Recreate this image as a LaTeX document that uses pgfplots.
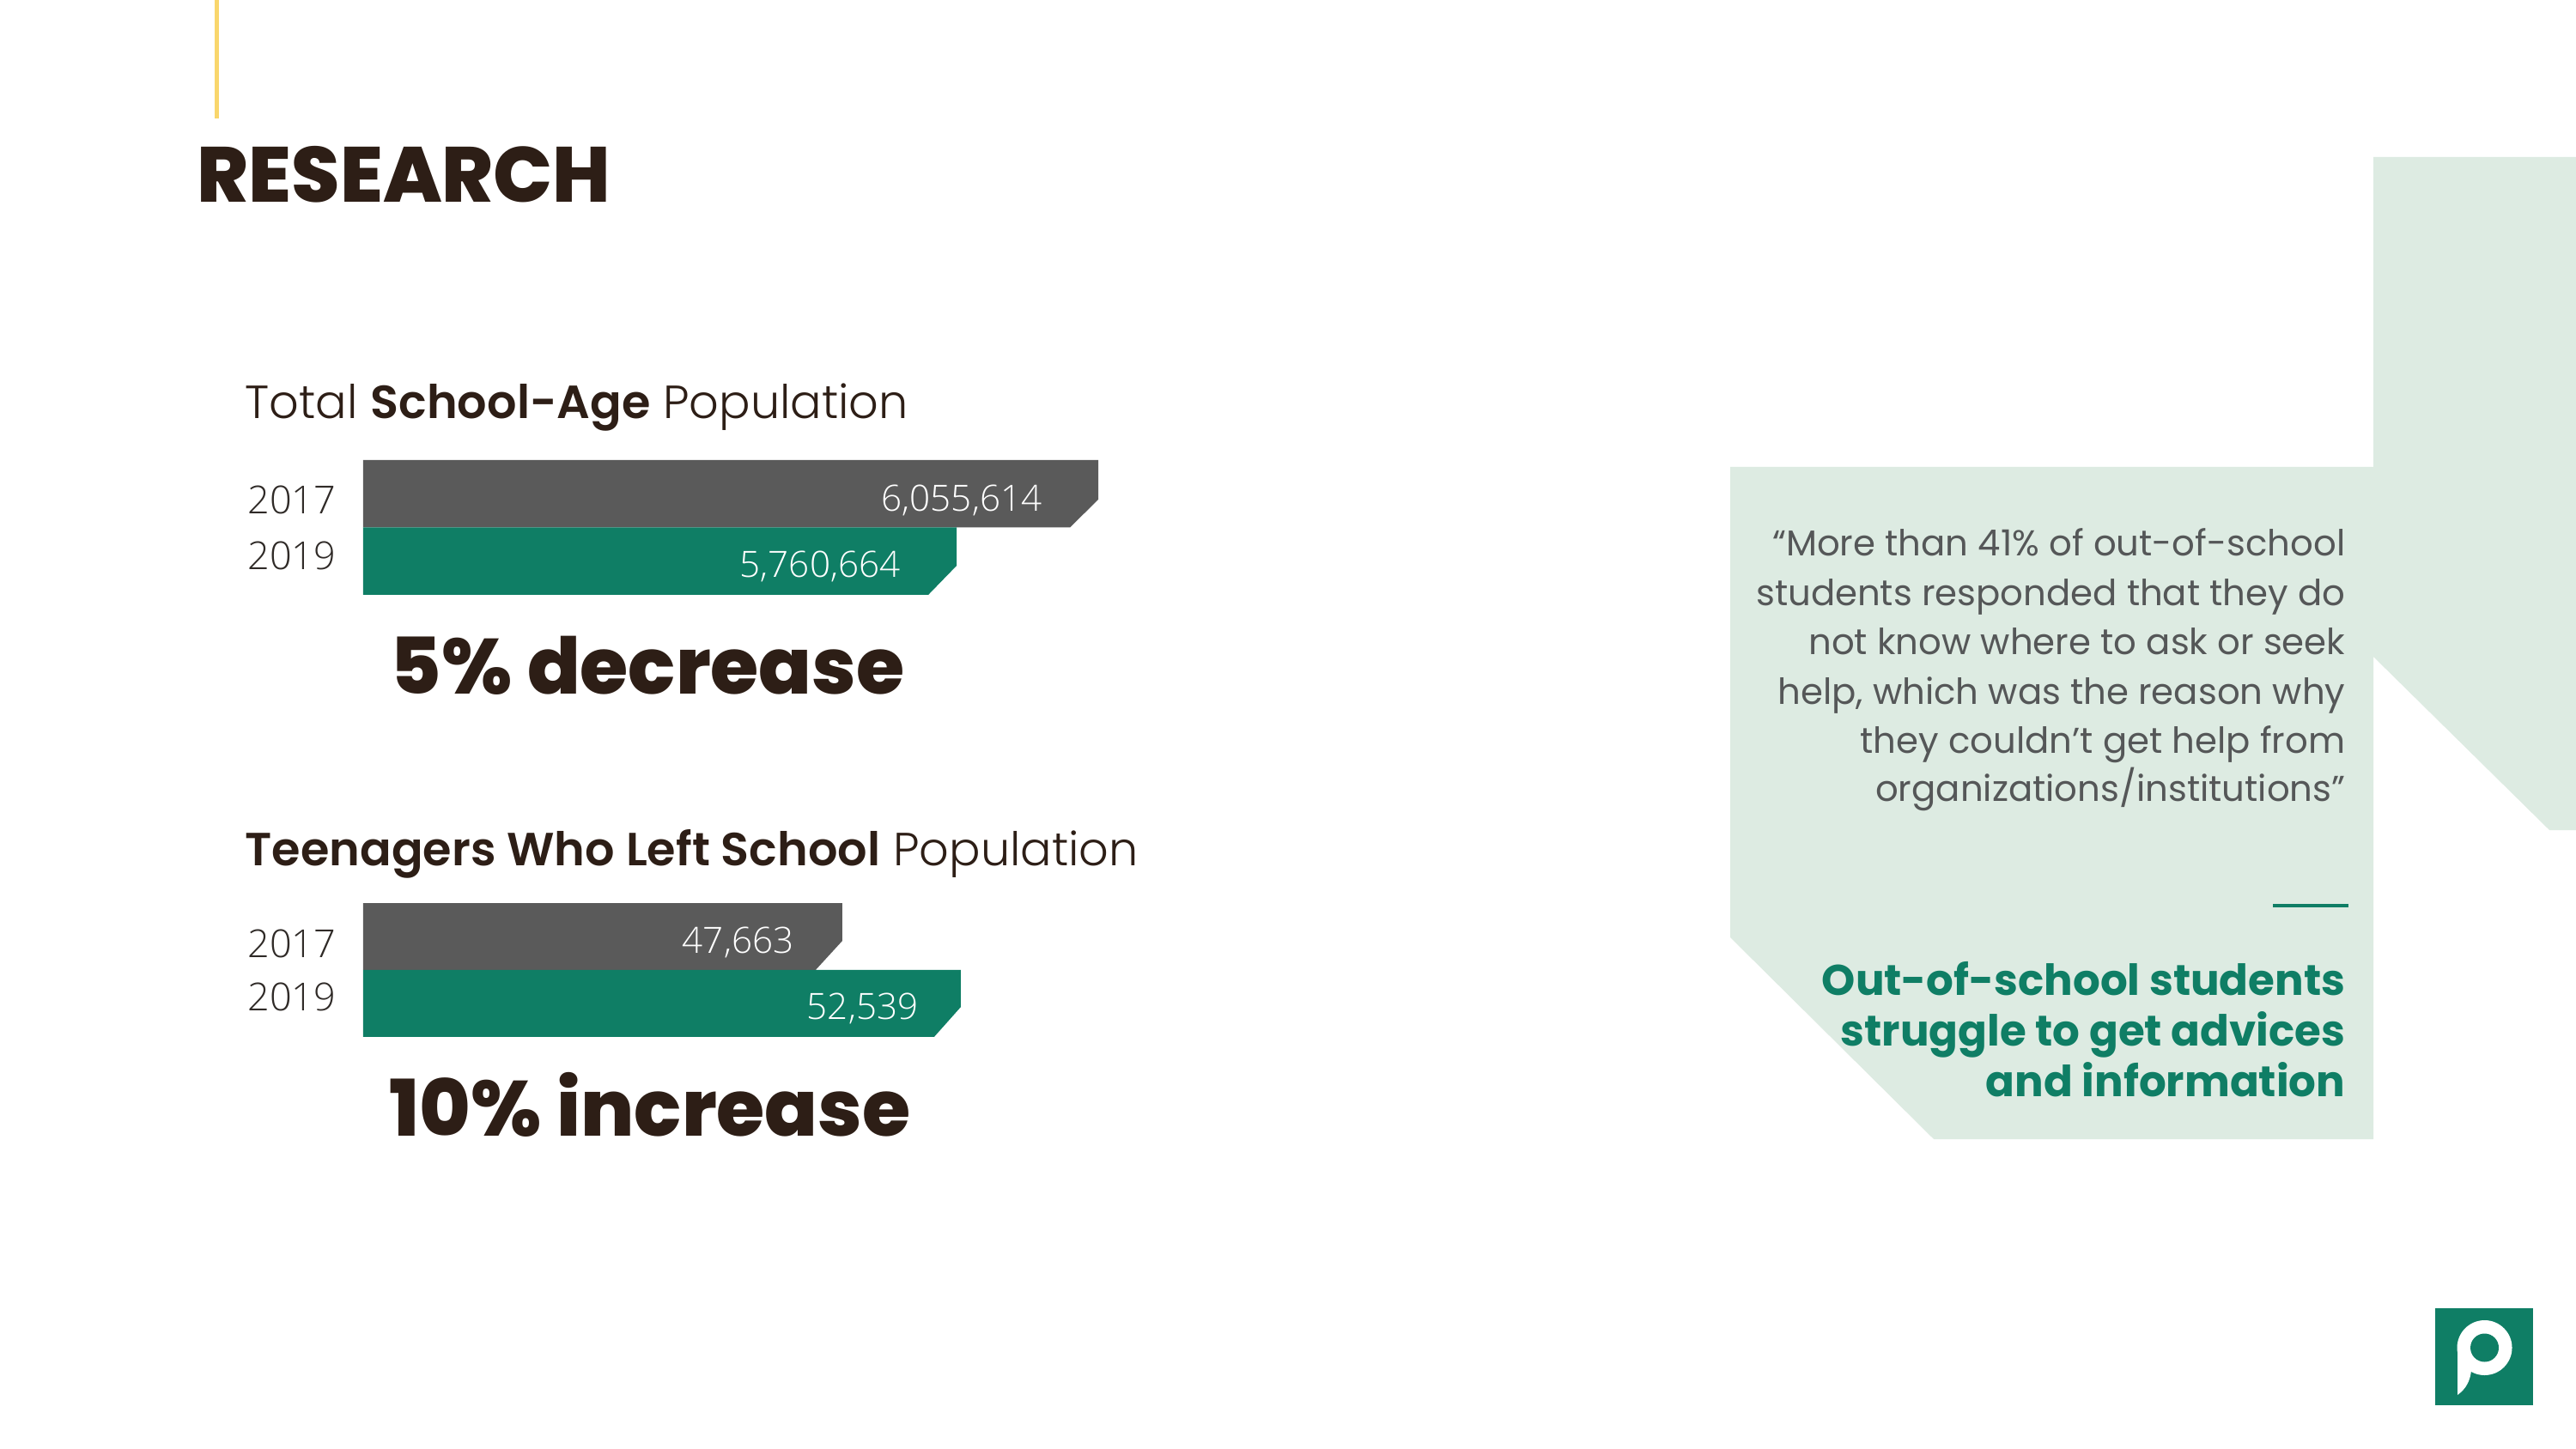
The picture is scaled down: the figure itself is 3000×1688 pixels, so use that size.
\documentclass[border=0pt]{standalone}
\usepackage{pgfplots}
\pgfplotsset{compat=1.18}
\usepackage{fontspec}
\setmainfont{Poppins}
\IfFontExistsTF{Poppins ExtraBold}{\newfontfamily\xbold{Poppins ExtraBold}}{\newcommand\xbold{\bfseries}}
\IfFontExistsTF{Poppins SemiBold}{\newfontfamily\sbold{Poppins SemiBold}}{\newcommand\sbold{\bfseries}}
\IfFontExistsTF{Poppins Light}{\newfontfamily\plight{Poppins Light}}{\newcommand\plight{\mdseries}}
\IfFontExistsTF{Open Sans Light}{\newfontfamily\numfont{Open Sans Light}}{\newfontfamily\numfont{Open Sans}}
\definecolor{dark}{HTML}{2D1E16}
\definecolor{graybar}{HTML}{5A5A5A}
\definecolor{greenbar}{HTML}{0F7E65}
\definecolor{mint}{HTML}{DDEBE2}
\definecolor{yellowbar}{HTML}{F9D66C}
\definecolor{quotegray}{HTML}{555758}
\definecolor{yearcol}{HTML}{2F2A27}
\begin{document}
\begin{tikzpicture}
\begin{scope}[x=0.1mm,y=-0.1mm]
\fill[white] (0,0) rectangle (3000,1688);
\fill[yellowbar] (250,0) rectangle (255,138);
\fill[mint] (2015,544) -- (2764,544) -- (2764,183) -- (3000,183) -- (3000,967) -- (2969,967) -- (2764,765) -- (2764,1327) -- (2252,1327) -- (2015,1092) -- cycle;
\node[anchor=base west,inner sep=0,text=dark,font=\xbold\fontsize{25.9}{30}\selectfont] at (229,236) {RESEARCH};
\node[anchor=base west,inner sep=0,text=dark,font=\plight\fontsize{15.4}{18}\selectfont] at (285,488) {Total {\sbold School-Age} Population};
\node[anchor=base west,inner sep=0,text=dark,font=\plight\fontsize{15.4}{18}\selectfont] at (285,1008) {{\sbold Teenagers Who Left School} Population};
\node[anchor=base west,inner sep=0,text=dark,font=\xbold\fontsize{25.9}{30}\selectfont] at (454,808) {5\% decrease};
\node[anchor=base west,inner sep=0,text=dark,font=\xbold\fontsize{25.9}{30}\selectfont] at (453,1323) {10\% increase};
\begin{scope}[every node/.style={anchor=base east,inner sep=0,text=quotegray,font=\fontsize{11.9}{15}\selectfont}]
\node at (2732,647) {“More than 41\% of out-of-school};
\node at (2732,705) {students responded that they do};
\node at (2732,762) {not know where to ask or seek};
\node at (2732,820) {help, which was the reason why};
\node at (2732,877) {they couldn’t get help from};
\node at (2732,933) {organizations/institutions”};
\end{scope}
\draw[greenbar,line width=0.4mm] (2647,1055) -- (2735,1055);
\begin{scope}[every node/.style={anchor=base east,inner sep=0,text=greenbar,font=\bfseries\fontsize{14.2}{18}\selectfont}]
\node at (2732,1159) {Out-of-school students};
\node at (2732,1218) {struggle to get advices};
\node at (2732,1277) {and information};
\end{scope}
% logo
\fill[greenbar] (2836,1524) rectangle (2950,1637);
\fill[white] (2893.5,1570) circle (32);
\fill[white] (2862,1570) -- (2862,1625) .. controls (2872,1618) and (2877,1608) .. (2878,1596) -- (2878,1570) -- cycle;
\fill[greenbar] (2893.5,1570) circle (16.5);
\end{scope}

\begin{axis}[at={(42.3mm,-69.3mm)}, anchor=south west, scale only axis,
  width=85.6mm, height=15.7mm, xmin=4525000, xmax=6055614, ymin=-0.5, ymax=1.5,
  axis line style={draw=none}, xtick=\empty, ytick={-0.118,0.71}, yticklabels={2019,2017},
  major tick length=0pt, clip=false,
  yticklabel style={anchor=base east, inner sep=0pt, xshift=-3.1mm, text=yearcol, font=\numfont\fontsize{12.8}{14}\selectfont}]
\addplot[fill=graybar, draw=none] coordinates {(4525000,1.5) (6055614,1.5) (6055614,0.914) (5996614,0.5) (4525000,0.5)};
\addplot[fill=greenbar, draw=none] coordinates {(4525000,0.5) (5760664,0.5) (5760664,-0.067) (5701664,-0.5) (4525000,-0.5)};
\node[anchor=base east, inner sep=0pt, xshift=-6.5mm, text=white, font=\numfont\fontsize{12}{14}\selectfont] at (axis cs:6055614,0.748) {6,055,614};
\node[anchor=base east, inner sep=0pt, xshift=-6.5mm, text=white, font=\numfont\fontsize{12}{14}\selectfont] at (axis cs:5760664,-0.245) {5,760,664};
\end{axis}

\begin{axis}[at={(42.3mm,-120.8mm)}, anchor=south west, scale only axis,
  width=69.6mm, height=15.6mm, xmin=27950, xmax=52539, ymin=-0.5, ymax=1.5,
  axis line style={draw=none}, xtick=\empty, ytick={-0.115,0.692}, yticklabels={2019,2017},
  major tick length=0pt, clip=false,
  yticklabel style={anchor=base east, inner sep=0pt, xshift=-3.1mm, text=yearcol, font=\numfont\fontsize{12.8}{14}\selectfont}]
\addplot[fill=graybar, draw=none] coordinates {(27950,1.5) (47663,1.5) (47663,0.936) (46563,0.5) (27950,0.5)};
\addplot[fill=greenbar, draw=none] coordinates {(27950,0.5) (52539,0.5) (52539,-0.051) (51439,-0.5) (27950,-0.5)};
\node[anchor=base east, inner sep=0pt, xshift=-5.6mm, text=white, font=\numfont\fontsize{12}{14}\selectfont] at (axis cs:47663,0.744) {47,663};
\node[anchor=base east, inner sep=0pt, xshift=-4.9mm, text=white, font=\numfont\fontsize{12}{14}\selectfont] at (axis cs:52539,-0.231) {52,539};
\end{axis}
\end{tikzpicture}
\end{document}
